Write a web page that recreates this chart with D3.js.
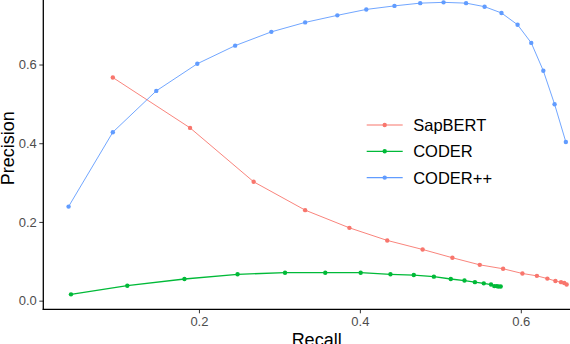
<!DOCTYPE html>
<html>
<head>
<meta charset="utf-8">
<script src="https://cdn.jsdelivr.net/npm/d3@7"></script>
<style>
  body { margin: 0; background: #fff; }
  text { font-family: "Liberation Sans", Arial, sans-serif; }
</style>
</head>
<body>
<svg id="chart" width="570" height="344"></svg>
<script>
// values
const seriesNames = ['SapBERT', 'CODER', 'CODER++'];
const seriesColors = ['#F8766D', '#00BA38', '#619CFF'];

const sapbertRecall = [0.093, 0.189, 0.268, 0.332, 0.387, 0.434, 0.478, 0.515, 0.549, 0.578, 0.602, 0.620, 0.633, 0.643, 0.650, 0.654, 0.657];
const sapbertPrecision = [0.567, 0.439, 0.302, 0.230, 0.185, 0.153, 0.130, 0.109, 0.091, 0.081, 0.069, 0.063, 0.056, 0.050, 0.047, 0.045, 0.041];

const coderRecall = [0.041, 0.111, 0.182, 0.248, 0.307, 0.357, 0.401, 0.438, 0.467, 0.492, 0.513, 0.530, 0.543, 0.554, 0.563, 0.567, 0.570, 0.572, 0.575];
const coderPrecision = [0.016, 0.038, 0.055, 0.067, 0.071, 0.071, 0.071, 0.067, 0.065, 0.061, 0.055, 0.051, 0.047, 0.044, 0.041, 0.037, 0.037, 0.036, 0.036];

const coderppRecall = [0.038, 0.093, 0.147, 0.198, 0.245, 0.290, 0.332, 0.372, 0.408, 0.443, 0.475, 0.504, 0.532, 0.555, 0.576, 0.596, 0.613, 0.628, 0.642, 0.656];
const coderppPrecision = [0.239, 0.428, 0.533, 0.602, 0.648, 0.683, 0.707, 0.725, 0.740, 0.749, 0.756, 0.758, 0.756, 0.747, 0.731, 0.701, 0.655, 0.584, 0.499, 0.403];

const xTicks = [0.2, 0.4, 0.6];
const yTicks = [0.0, 0.2, 0.4, 0.6];

const series = [
    { name: seriesNames[0], color: seriesColors[0], width: 0.9, x: sapbertRecall, y: sapbertPrecision },
    { name: seriesNames[1], color: seriesColors[1], width: 1.3, x: coderRecall, y: coderPrecision },
    { name: seriesNames[2], color: seriesColors[2], width: 0.9, x: coderppRecall, y: coderppPrecision }
];

const svg = d3.select('#chart');

// panel limits (data range + 5% expansion); panel runs past the crop at top and right
const xLim = [0.0066, 0.686];
const yLim = [-0.022, 0.797];

const x = d3.scaleLinear().domain(xLim).range([43.3, 590]);
const y = d3.scaleLinear().domain(yLim).range([309.3, -13]);

const line = d3.line().x(d => x(d[0])).y(d => y(d[1]));

const g = svg.append('g');

series.forEach(s => {
    const pts = s.x.map((v, i) => [v, s.y[i]]);
    g.append('path')
        .datum(pts)
        .attr('fill', 'none')
        .attr('stroke', s.color)
        .attr('stroke-width', s.width)
        .attr('d', line);
    g.selectAll(null).data(pts)
        .enter().append('circle')
        .attr('cx', d => x(d[0]))
        .attr('cy', d => y(d[1]))
        .attr('r', 2.2)
        .attr('fill', s.color);
});

// axes
const yAxis = svg.append('g')
    .attr('transform', `translate(${x(xLim[0])},0)`)
    .call(d3.axisLeft(y).tickValues(yTicks).tickFormat(d3.format('.1f')).tickSize(4).tickPadding(2.5));
const xAxis = svg.append('g')
    .attr('transform', `translate(0,${y(yLim[0])})`)
    .call(d3.axisBottom(x).tickValues(xTicks).tickFormat(d3.format('.1f')).tickSize(4).tickPadding(3));

[xAxis, yAxis].forEach(a => {
    a.select('.domain').remove();
    a.selectAll('.tick line').attr('stroke', '#333').attr('stroke-width', 1);
    a.selectAll('.tick text').attr('fill', '#4D4D4D').style('font-size', '13px')
        .style('font-family', '"Liberation Sans", Arial, sans-serif');
});

svg.append('line')
    .attr('x1', x(xLim[0])).attr('x2', x(xLim[0]))
    .attr('y1', y(yLim[1])).attr('y2', y(yLim[0]) + 0.6)
    .attr('stroke', '#000').attr('stroke-width', 1.3);
svg.append('line')
    .attr('x1', x(xLim[0]) - 0.6).attr('x2', x(xLim[1]))
    .attr('y1', y(yLim[0])).attr('y2', y(yLim[0]))
    .attr('stroke', '#000').attr('stroke-width', 1.3);

// axis titles
svg.append('text')
    .attr('x', (x(xLim[0]) + x(xLim[1])) / 2)
    .attr('y', 346)
    .attr('text-anchor', 'middle')
    .style('font-size', '18px')
    .text('Recall');

svg.append('text')
    .attr('transform', `translate(14,${(y(yLim[0]) + y(yLim[1])) / 2}) rotate(-90)`)
    .attr('text-anchor', 'middle')
    .style('font-size', '18px')
    .text('Precision');

// legend
const legend = svg.append('g').attr('transform', 'translate(366.7,125)');
series.forEach((s, i) => {
    const row = legend.append('g').attr('transform', `translate(0,${i * 26.3})`);
    row.append('line').attr('x1', 0).attr('x2', 36).attr('stroke', s.color).attr('stroke-width', 1.2);
    row.append('circle').attr('cx', 18).attr('r', 2.2).attr('fill', s.color);
    row.append('text').attr('x', 46.5).attr('dy', '0.36em')
        .style('font-size', '16.5px').text(s.name);
});
</script>
</body>
</html>
